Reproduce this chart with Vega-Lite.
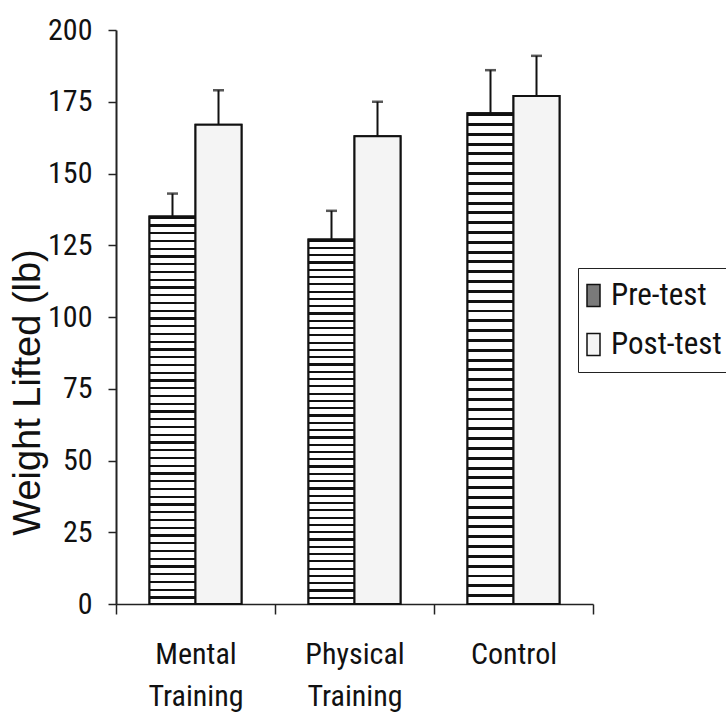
{
  "$schema": "https://vega.github.io/schema/vega-lite/v6.json",
  "autosize": {"type": "none"},
  "padding": {"left": 116, "top": 30, "right": 133, "bottom": 115},
  "width": 477,
  "height": 574,
  "background": "white",
  "config": {"view": {"stroke": null}, "font": "Liberation Sans"},
  "data": {"values": [
    {"group": "Mental Training", "phase": "Pre-test", "value": 135, "upper": 143},
    {"group": "Mental Training", "phase": "Post-test", "value": 167, "upper": 179},
    {"group": "Physical Training", "phase": "Pre-test", "value": 127, "upper": 137},
    {"group": "Physical Training", "phase": "Post-test", "value": 163, "upper": 175},
    {"group": "Control", "phase": "Pre-test", "value": 171, "upper": 186},
    {"group": "Control", "phase": "Post-test", "value": 177, "upper": 191}
  ]},
  "encoding": {
    "x": {
      "field": "group", "type": "nominal",
      "sort": ["Mental Training", "Physical Training", "Control"],
      "scale": {"paddingInner": 0, "paddingOuter": 0},
      "axis": {
        "title": null, "labelAngle": 0, "domainColor": "#222", "domainWidth": 1.5,
        "tickBand": "extent", "tickSize": 10, "tickColor": "#222", "tickWidth": 1.5,
        "labelFont": "Roboto Condensed, Liberation Sans",
        "labelFontSize": 30, "labelLineHeight": 42, "labelPadding": 25,
        "labelBaseline": "top", "labelColor": "#111",
        "labelExpr": "split(datum.label, ' ')"
      }
    },
    "xOffset": {
      "field": "phase", "type": "nominal", "sort": ["Pre-test", "Post-test"],
      "scale": {"paddingInner": 0, "paddingOuter": 0.728}
    }
  },
  "layer": [
    {
      "mark": {"type": "bar", "stroke": "#111", "strokeWidth": 2},
      "encoding": {
        "y": {
          "field": "value", "type": "quantitative",
          "scale": {"domain": [0, 200], "nice": false},
          "axis": {
            "title": "Weight Lifted (lb)", "values": [0, 25, 50, 75, 100, 125, 150, 175, 200],
            "grid": false, "domainColor": "#222", "domainWidth": 2,
            "tickColor": "#222", "tickWidth": 1.5, "tickSize": 8,
            "labelFont": "Roboto Condensed, Liberation Sans",
            "labelFontSize": 30, "labelColor": "#111", "labelPadding": 16,
            "titleFont": "Liberation Sans", "titleFontSize": 38, "titleFontWeight": "normal",
            "titleColor": "#111", "titleAngle": 270, "titleX": -88, "titleY": 362,
            "titleAlign": "center", "titleBaseline": "middle"
          }
        },
        "fill": {
          "field": "phase", "type": "nominal",
          "scale": {"domain": ["Pre-test", "Post-test"], "range": ["#7a7a7a", "#f4f4f4"]},
          "legend": {
            "title": null, "orient": "none", "legendX": 462, "legendY": 238,
            "strokeColor": "#222", "fillColor": "white", "padding": 12,
            "labelFont": "Roboto Condensed, Liberation Sans",
            "labelFontSize": 31, "labelColor": "#111", "labelOffset": 2, "rowPadding": 17,
            "symbolOffset": -12,
            "symbolType": "M-1,-1.7H1V1.7H-1Z", "symbolSize": 169,
            "symbolStrokeColor": "#111", "symbolStrokeWidth": 1.5,
            "encode": {
              "symbols": {
                "update": {
                  "stroke": {"value": "#111"},
                  "strokeWidth": {"value": 1.5}
                }
              }
            }
          }
        }
      }
    },
    {
      "mark": {"type": "bar", "stroke": "#111", "strokeWidth": 2},
      "encoding": {
        "y": {"field": "value", "type": "quantitative"},
        "fill": {
          "condition": {
            "test": "datum.phase === 'Pre-test'",
            "value": {"gradient": "linear", "x1": 0, "y1": 0, "x2": 0, "y2": 1, "stops": [
                {"offset": 0, "color": "#111"}, {"offset": 0.006, "color": "#111"}, {"offset": 0.006, "color": "#fff"}, {"offset": 0.02, "color": "#fff"},
                {"offset": 0.02, "color": "#111"}, {"offset": 0.026, "color": "#111"}, {"offset": 0.026, "color": "#fff"}, {"offset": 0.04, "color": "#fff"},
                {"offset": 0.04, "color": "#111"}, {"offset": 0.046, "color": "#111"}, {"offset": 0.046, "color": "#fff"}, {"offset": 0.06, "color": "#fff"},
                {"offset": 0.06, "color": "#111"}, {"offset": 0.066, "color": "#111"}, {"offset": 0.066, "color": "#fff"}, {"offset": 0.08, "color": "#fff"},
                {"offset": 0.08, "color": "#111"}, {"offset": 0.086, "color": "#111"}, {"offset": 0.086, "color": "#fff"}, {"offset": 0.1, "color": "#fff"},
                {"offset": 0.1, "color": "#111"}, {"offset": 0.106, "color": "#111"}, {"offset": 0.106, "color": "#fff"}, {"offset": 0.12, "color": "#fff"},
                {"offset": 0.12, "color": "#111"}, {"offset": 0.126, "color": "#111"}, {"offset": 0.126, "color": "#fff"}, {"offset": 0.14, "color": "#fff"},
                {"offset": 0.14, "color": "#111"}, {"offset": 0.146, "color": "#111"}, {"offset": 0.146, "color": "#fff"}, {"offset": 0.16, "color": "#fff"},
                {"offset": 0.16, "color": "#111"}, {"offset": 0.166, "color": "#111"}, {"offset": 0.166, "color": "#fff"}, {"offset": 0.18, "color": "#fff"},
                {"offset": 0.18, "color": "#111"}, {"offset": 0.186, "color": "#111"}, {"offset": 0.186, "color": "#fff"}, {"offset": 0.2, "color": "#fff"},
                {"offset": 0.2, "color": "#111"}, {"offset": 0.206, "color": "#111"}, {"offset": 0.206, "color": "#fff"}, {"offset": 0.22, "color": "#fff"},
                {"offset": 0.22, "color": "#111"}, {"offset": 0.226, "color": "#111"}, {"offset": 0.226, "color": "#fff"}, {"offset": 0.24, "color": "#fff"},
                {"offset": 0.24, "color": "#111"}, {"offset": 0.246, "color": "#111"}, {"offset": 0.246, "color": "#fff"}, {"offset": 0.26, "color": "#fff"},
                {"offset": 0.26, "color": "#111"}, {"offset": 0.266, "color": "#111"}, {"offset": 0.266, "color": "#fff"}, {"offset": 0.28, "color": "#fff"},
                {"offset": 0.28, "color": "#111"}, {"offset": 0.286, "color": "#111"}, {"offset": 0.286, "color": "#fff"}, {"offset": 0.3, "color": "#fff"},
                {"offset": 0.3, "color": "#111"}, {"offset": 0.306, "color": "#111"}, {"offset": 0.306, "color": "#fff"}, {"offset": 0.32, "color": "#fff"},
                {"offset": 0.32, "color": "#111"}, {"offset": 0.326, "color": "#111"}, {"offset": 0.326, "color": "#fff"}, {"offset": 0.34, "color": "#fff"},
                {"offset": 0.34, "color": "#111"}, {"offset": 0.346, "color": "#111"}, {"offset": 0.346, "color": "#fff"}, {"offset": 0.36, "color": "#fff"},
                {"offset": 0.36, "color": "#111"}, {"offset": 0.366, "color": "#111"}, {"offset": 0.366, "color": "#fff"}, {"offset": 0.38, "color": "#fff"},
                {"offset": 0.38, "color": "#111"}, {"offset": 0.386, "color": "#111"}, {"offset": 0.386, "color": "#fff"}, {"offset": 0.4, "color": "#fff"},
                {"offset": 0.4, "color": "#111"}, {"offset": 0.406, "color": "#111"}, {"offset": 0.406, "color": "#fff"}, {"offset": 0.42, "color": "#fff"},
                {"offset": 0.42, "color": "#111"}, {"offset": 0.426, "color": "#111"}, {"offset": 0.426, "color": "#fff"}, {"offset": 0.44, "color": "#fff"},
                {"offset": 0.44, "color": "#111"}, {"offset": 0.446, "color": "#111"}, {"offset": 0.446, "color": "#fff"}, {"offset": 0.46, "color": "#fff"},
                {"offset": 0.46, "color": "#111"}, {"offset": 0.466, "color": "#111"}, {"offset": 0.466, "color": "#fff"}, {"offset": 0.48, "color": "#fff"},
                {"offset": 0.48, "color": "#111"}, {"offset": 0.486, "color": "#111"}, {"offset": 0.486, "color": "#fff"}, {"offset": 0.5, "color": "#fff"},
                {"offset": 0.5, "color": "#111"}, {"offset": 0.506, "color": "#111"}, {"offset": 0.506, "color": "#fff"}, {"offset": 0.52, "color": "#fff"},
                {"offset": 0.52, "color": "#111"}, {"offset": 0.526, "color": "#111"}, {"offset": 0.526, "color": "#fff"}, {"offset": 0.54, "color": "#fff"},
                {"offset": 0.54, "color": "#111"}, {"offset": 0.546, "color": "#111"}, {"offset": 0.546, "color": "#fff"}, {"offset": 0.56, "color": "#fff"},
                {"offset": 0.56, "color": "#111"}, {"offset": 0.566, "color": "#111"}, {"offset": 0.566, "color": "#fff"}, {"offset": 0.58, "color": "#fff"},
                {"offset": 0.58, "color": "#111"}, {"offset": 0.586, "color": "#111"}, {"offset": 0.586, "color": "#fff"}, {"offset": 0.6, "color": "#fff"},
                {"offset": 0.6, "color": "#111"}, {"offset": 0.606, "color": "#111"}, {"offset": 0.606, "color": "#fff"}, {"offset": 0.62, "color": "#fff"},
                {"offset": 0.62, "color": "#111"}, {"offset": 0.626, "color": "#111"}, {"offset": 0.626, "color": "#fff"}, {"offset": 0.64, "color": "#fff"},
                {"offset": 0.64, "color": "#111"}, {"offset": 0.646, "color": "#111"}, {"offset": 0.646, "color": "#fff"}, {"offset": 0.66, "color": "#fff"},
                {"offset": 0.66, "color": "#111"}, {"offset": 0.666, "color": "#111"}, {"offset": 0.666, "color": "#fff"}, {"offset": 0.68, "color": "#fff"},
                {"offset": 0.68, "color": "#111"}, {"offset": 0.686, "color": "#111"}, {"offset": 0.686, "color": "#fff"}, {"offset": 0.7, "color": "#fff"},
                {"offset": 0.7, "color": "#111"}, {"offset": 0.706, "color": "#111"}, {"offset": 0.706, "color": "#fff"}, {"offset": 0.72, "color": "#fff"},
                {"offset": 0.72, "color": "#111"}, {"offset": 0.726, "color": "#111"}, {"offset": 0.726, "color": "#fff"}, {"offset": 0.74, "color": "#fff"},
                {"offset": 0.74, "color": "#111"}, {"offset": 0.746, "color": "#111"}, {"offset": 0.746, "color": "#fff"}, {"offset": 0.76, "color": "#fff"},
                {"offset": 0.76, "color": "#111"}, {"offset": 0.766, "color": "#111"}, {"offset": 0.766, "color": "#fff"}, {"offset": 0.78, "color": "#fff"},
                {"offset": 0.78, "color": "#111"}, {"offset": 0.786, "color": "#111"}, {"offset": 0.786, "color": "#fff"}, {"offset": 0.8, "color": "#fff"},
                {"offset": 0.8, "color": "#111"}, {"offset": 0.806, "color": "#111"}, {"offset": 0.806, "color": "#fff"}, {"offset": 0.82, "color": "#fff"},
                {"offset": 0.82, "color": "#111"}, {"offset": 0.826, "color": "#111"}, {"offset": 0.826, "color": "#fff"}, {"offset": 0.84, "color": "#fff"},
                {"offset": 0.84, "color": "#111"}, {"offset": 0.846, "color": "#111"}, {"offset": 0.846, "color": "#fff"}, {"offset": 0.86, "color": "#fff"},
                {"offset": 0.86, "color": "#111"}, {"offset": 0.866, "color": "#111"}, {"offset": 0.866, "color": "#fff"}, {"offset": 0.88, "color": "#fff"},
                {"offset": 0.88, "color": "#111"}, {"offset": 0.886, "color": "#111"}, {"offset": 0.886, "color": "#fff"}, {"offset": 0.9, "color": "#fff"},
                {"offset": 0.9, "color": "#111"}, {"offset": 0.906, "color": "#111"}, {"offset": 0.906, "color": "#fff"}, {"offset": 0.92, "color": "#fff"},
                {"offset": 0.92, "color": "#111"}, {"offset": 0.926, "color": "#111"}, {"offset": 0.926, "color": "#fff"}, {"offset": 0.94, "color": "#fff"},
                {"offset": 0.94, "color": "#111"}, {"offset": 0.946, "color": "#111"}, {"offset": 0.946, "color": "#fff"}, {"offset": 0.96, "color": "#fff"},
                {"offset": 0.96, "color": "#111"}, {"offset": 0.966, "color": "#111"}, {"offset": 0.966, "color": "#fff"}, {"offset": 0.98, "color": "#fff"},
                {"offset": 0.98, "color": "#111"}, {"offset": 0.986, "color": "#111"}, {"offset": 0.986, "color": "#fff"}, {"offset": 1, "color": "#fff"}
            ]}
          },
          "value": "#f4f4f4"
        }
      }
    },
    {
      "mark": {"type": "rule", "color": "#111", "strokeWidth": 2},
      "encoding": {
        "y": {"field": "value", "type": "quantitative"},
        "y2": {"field": "upper"}
      }
    },
    {
      "mark": {"type": "tick", "orient": "horizontal", "color": "#111", "thickness": 2.5, "size": 11},
      "encoding": {
        "y": {"field": "upper", "type": "quantitative"}
      }
    }
  ]
}
